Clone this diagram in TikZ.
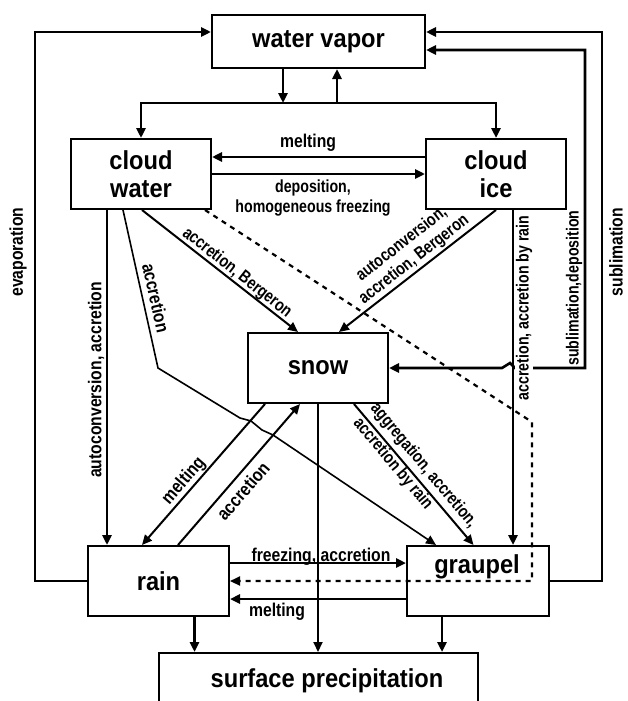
\documentclass[tikz,border=0pt]{standalone}
\usepackage{fontspec}
\newfontfamily\bxf{Liberation Sans}[FakeStretch=0.91]
\newfontfamily\lbf{Liberation Sans}[FakeStretch=0.85]
\newfontfamily\slf{Liberation Sans}[FakeStretch=0.81]
\usetikzlibrary{arrows.meta,calc}
\begin{document}
\begin{tikzpicture}[x=1pt,y=-1pt,
  >={Triangle[length=10pt,width=9pt]},
  bx/.style={draw, line width=2pt, inner sep=0pt, align=center, font=\bxf\bfseries\fontsize{26}{28}\selectfont},
  bxt/.style={inner sep=0pt, font=\bxf\bfseries\fontsize{26}{28}\selectfont},
  tk/.style={line width=2.6pt, ->},
  md/.style={line width=2pt, ->},
  tn/.style={line width=1.6pt, ->},
  dsh/.style={line width=2.2pt, dash pattern=on 5pt off 5pt, ->},
  lb/.style={font=\lbf\bfseries\fontsize{18.5}{20}\selectfont, inner sep=1pt, align=center},
  sl/.style={font=\slf\bfseries\fontsize{17.5}{20}\selectfont, inner sep=1pt, align=center}]
\useasboundingbox (0,0) rectangle (627,701);
\clip (0,0) rectangle (627,701);
\fill[white] (0,0) rectangle (627,701);

% boxes
\node[bx, minimum width=213pt, minimum height=53pt] (wv) at (318.5,41.5) {water vapor};
\node[bx, minimum width=140pt, minimum height=70pt] (cw) at (141,174) {cloud\\water};
\node[bx, minimum width=140pt, minimum height=70pt] (ci) at (496,174) {cloud\\ice};
\node[bx, minimum width=140pt, minimum height=70pt] (sn) at (318,368) {snow};
\node[bx, minimum width=141pt, minimum height=70pt] (rn) at (158.5,581) {rain};
\node[bx, minimum width=142pt, minimum height=70pt] (gr) at (478,581) {};
\node[bxt, anchor=base] (grt) at (477,573) {graupel};
\node[bx, minimum width=319pt, minimum height=100pt, anchor=north] (sp) at (318.5,652) {};
\node[bxt] (spt) at (327,681) {surface precipitation};

% water vapor and bus
\coordinate (bus) at (318,103);
\draw[tk] ([xshift=-35.5pt]wv.south) -- ([xshift=-35.5pt]wv.south |- bus);
\draw[tk] ([xshift=18.5pt]wv.south |- bus) -- ([xshift=18.5pt]wv.south);
\draw[tk] (bus) -| (cw.north);
\draw[tk] (bus) -| (ci.north);

% between clouds
\draw[tk] ([yshift=17pt]ci.west) -- ([yshift=17pt]cw.east);
\draw[tk] (cw.east) -- (ci.west);

% evaporation / sublimation
\coordinate (evc) at (35,32);
\draw[tk] (rn.west) -| (evc) -- ([yshift=9.5pt]wv.west);
\coordinate (sbc) at (602,32);
\draw[tk] (gr.east) -| (sbc) -- ([yshift=9.5pt]wv.east);
\coordinate (sdc) at (585,368);
\draw[tk,<->] ([yshift=-8.5pt]wv.east) -| (sdc) -- (515,368) -- (510,363) -- (502,368) -- (sn.east);

% from cloud water
\draw[tk] ([xshift=-34pt]cw.south) -- ([xshift=-34pt]cw.south |- rn.north);
\draw[tn] ([xshift=-18pt]cw.south) -- (158,368) -- (240,418) -- (251,421) -- (262,430) -- (273,435) -- ([xshift=-42pt]gr.north);
\draw[md] ([xshift=1pt]cw.south) -- ([xshift=-20pt]sn.north);
\coordinate (dA) at (532,422);
\draw[dsh] ([xshift=-7pt]cw.south east) -- (dA) |- (rn.east);

% from cloud ice
\draw[md] (ci.south) -- ([xshift=21pt]sn.north);
\draw[tk] ([xshift=17pt]ci.south) -- ([xshift=17pt]ci.south |- gr.north);

% snow
\draw[md] ([xshift=-53pt]sn.south) -- ([xshift=-16.5pt]rn.north);
\draw[md] ([xshift=19.5pt]rn.north) -- ([xshift=-18pt]sn.south);
\draw[md] (sn.south) -- (sn.south |- sp.north);
\draw[md] ([xshift=36pt]sn.south) -- ([xshift=-4.5pt]gr.north);

% rain / graupel
\draw[tk] ([yshift=18pt]rn.east) -- ([yshift=18pt]gr.west);
\draw[tk] ([yshift=-18pt]gr.west) -- ([yshift=-18pt]rn.east);
\draw[tk] ([xshift=36pt]rn.south) -- ([xshift=36pt]rn.south |- sp.north);
\draw[tk] ([xshift=-36pt]gr.south) -- ([xshift=-36pt]gr.south |- sp.north);

% labels
\node[lb] (lmelt1) at (308,143) {melting};
\node[sl] (ldep) at (313,198) {deposition,\\homogeneous freezing};
\node[lb, rotate=90] (levap) at (18,252) {evaporation};
\node[lb, rotate=90] (lsub) at (616,252) {sublimation};
\node[sl, rotate=90] (lsd) at (574,288) {sublimation,deposition};
\node[sl, rotate=90, fill=white] (lacr) at (524,308) {accretion, accretion by rain};
\node[lb, rotate=90] (lauto) at (96,380) {autoconversion, accretion};
\node[lb, rotate=-77.5] (lacc1) at (156,298) {accretion};
\node[sl, rotate=-38.3] (lab1) at (237,273) {accretion, Bergeron};
\node[sl, rotate=38] (lab2) at (408,252) {autoconversion,\\accretion, Bergeron};
\node[lb, rotate=49.3] (lmelt2) at (184,481) {melting};
\node[lb, rotate=49.3] (lacc2) at (243,491) {accretion};
\node[sl, rotate=-50.1, align=left, font=\slf\bfseries\fontsize{17.5}{22.5}\selectfont] (lagg) at (415,473) {aggregation, accretion,\\accretion by rain};
\node[lb, anchor=base] (lfrz) at (321,561) {freezing, accretion};
\node[lb] (lmelt3) at (277,612) {melting};
\end{tikzpicture}
\end{document}
